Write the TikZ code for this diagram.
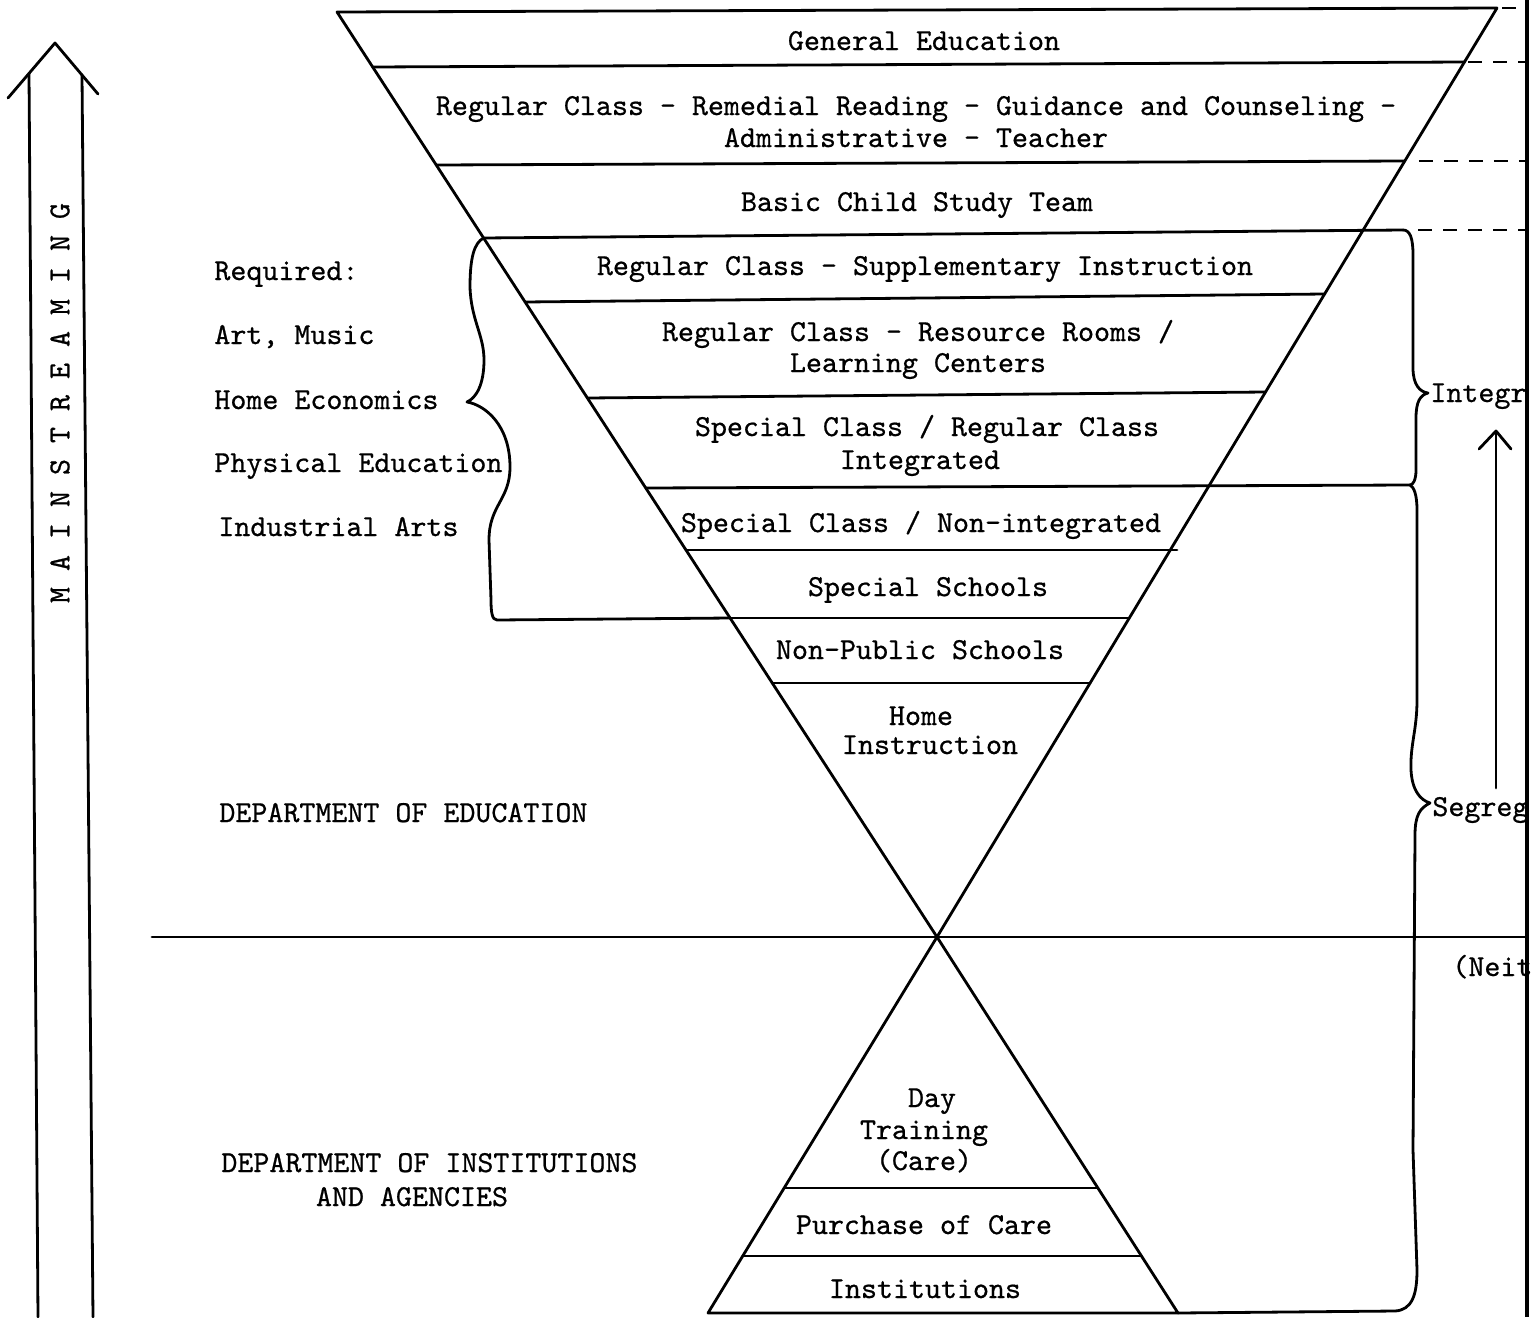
\documentclass[tikz,border=0pt]{standalone}
\usepackage{fontspec}
\newfontfamily\tw[FakeBold=0.7]{lmmono10-regular.otf}
\begin{document}
\begin{tikzpicture}[x=0.5pt,y=-0.5pt]
\tikzset{
  ln/.style={line width=1.4pt, line cap=round, line join=round},
  dsh/.style={line width=1.3pt, dash pattern=on 7pt off 5.5pt},
  lbl/.style={font=\tw\fontsize{15.24}{16}\selectfont, inner sep=0pt, anchor=base},
  lft/.style={lbl, anchor=base west},
  edge/.style={line width=1.6pt}
}
\useasboundingbox (0,0) rectangle (1531,1317);

% coordinates of the inverted triangle
\coordinate (T1L) at (337,12);   \coordinate (T1R) at (1497,8);
\coordinate (V)   at (937,937);
\coordinate (A2L) at (372.7,67); \coordinate (A2R) at (1464.4,62);
\coordinate (A3L) at (436.2,165);\coordinate (A3R) at (1404.8,161);
\coordinate (A4L) at (483.6,238);\coordinate (A4R) at (1363.2,230);
\coordinate (A5L) at (525.1,302);\coordinate (A5R) at (1324.6,294);
\coordinate (A6L) at (587.4,398);\coordinate (A6R) at (1265.5,392);
\coordinate (A7L) at (645.7,488);\coordinate (A7R) at (1210.1,484);
\coordinate (A8L) at (686,550);  \coordinate (A8R) at (1177,550);
\coordinate (A9L) at (730.1,618);\coordinate (A9R) at (1129.3,618);
\coordinate (A10L) at (772.2,683);\coordinate (A10R) at (1090.1,683);
% lower triangle
\coordinate (B1L) at (784.1,1188);\coordinate (B1R) at (1097.9,1188);
\coordinate (B2L) at (742.7,1256);\coordinate (B2R) at (1141.5,1256);
\coordinate (B3L) at (708,1313); \coordinate (B3R) at (1178,1313);
% other points
\coordinate (E4) at (1403,230);
\coordinate (E7) at (1410,485);
\coordinate (HL) at (152,937);
\coordinate (HR) at (1527,937);
\coordinate (RT) at (1527,0);
\coordinate (RB) at (1527,1317);

% triangles
\draw[ln] (T1L) -- (V) -- (T1R) -- cycle;
\draw[ln] (V) -- (B3L) -- (B3R) -- cycle;
\draw[ln] (A2L) -- (A2R);
\draw[ln] (A3L) -- (A3R);
\draw[ln] (A4L) -- (E4);
\draw[ln] (A5L) -- (A5R);
\draw[ln] (A6L) -- (A6R);
\draw[ln] (A7L) -- (E7);
\draw[ln] (A8L) -- (A8R);
\draw[ln] (A9L) -- (A9R);
\draw[ln] (A10L) -- (A10R);
\draw[ln] (B1L) -- (B1R);
\draw[ln] (B2L) -- (B2R);
\draw[ln] (HL) -- (HR);

% dashed extensions
\draw[dsh] (1502,8) -- (1516,8);
\draw[dsh] (A2R) ++(4,0) -- (1527,62);
\draw[dsh] (A3R) ++(14,0) -- (1527,161);
\draw[dsh] (1418,230) -- (1527,230);

% page edge
\draw[edge] (RT) -- (RB);

% right braces
\draw[ln] (E4) .. controls (1410,230) and (1413,238) .. (1413,255) -- (1413,368)
  .. controls (1413,385) and (1420,392) .. (1428,393)
  .. controls (1420,395) and (1416,402) .. (1416,418) -- (1416,470)
  .. controls (1416,480) and (1413,485) .. (E7);
\draw[ln] (E7) .. controls (1414,487) and (1417,495) .. (1417,510) -- (1417,700)
  .. controls (1417,730) and (1410,745) .. (1411,770)
  .. controls (1412,790) and (1420,800) .. (1430,803)
  .. controls (1420,808) and (1415,815) .. (1415,835) -- (1413,1150) -- (1417,1270)
  .. controls (1417,1295) and (1412,1310) .. (1395,1311) -- (B3R);

% left brace
\draw[ln] (A4L) .. controls (474,243) and (470,258) .. (470,287)
  .. controls (471,320) and (484,335) .. (484,360)
  .. controls (484,385) and (476,398) .. (467,402)
  .. controls (485,405) and (510,425) .. (510,467)
  .. controls (510,500) and (489,505) .. (489,540) -- (491,600)
  .. controls (491,612) and (492,620) .. (497,620) -- (A9L);

% arrows
\draw[ln] (1496,788) -- (1496,432);
\draw[ln] (1479,449) -- (1496,431) -- (1511,449);
\draw[ln] (29,73.4) -- (38,1317);
\draw[ln] (82,75) -- (93,1317);
\draw[ln] (8,98) -- (55,43) -- (98,94);

% labels in bands
\node[lbl] (ge) at (924,50) {General Education};
\node[lbl] (rc1) at (916,115) {Regular Class - Remedial Reading - Guidance and Counseling -};
\node[lbl] (rc2) at (916,147) {Administrative - Teacher};
\node[lbl] (bc) at (917,211) {Basic Child Study Team};
\node[lbl] (si) at (925,275) {Regular Class - Supplementary Instruction};
\node[lbl] (rr1) at (918,341) {Regular Class - Resource Rooms /};
\node[lbl] (rr2) at (918,372) {Learning Centers};
\node[lbl] (sc1) at (927,436) {Special Class / Regular Class};
\node[lbl] (sc2) at (920,469) {Integrated};
\node[lbl] (ni) at (921,532) {Special Class / Non-integrated};
\node[lbl] (ss) at (928,596) {Special Schools};
\node[lbl] (np) at (920,659) {Non-Public Schools};
\node[lbl] (hi1) at (921,725) {Home};
\node[lbl] (hi2) at (930,754) {Instruction};
\node[lbl] (dt1) at (932,1107) {Day};
\node[lbl] (dt2) at (924,1139) {Training};
\node[lbl] (dt3) at (924,1170) {(Care)};
\node[lbl] (pc) at (924,1234) {Purchase of Care};
\node[lbl] (in) at (925,1298) {Institutions};

% left labels
\node[lft] (rq) at (214,280) {Required:};
\node[lft] (am) at (214,344) {Art, Music};
\node[lft] (he) at (214,409) {Home Economics};
\node[lft] (pe) at (214,472) {Physical Education};
\node[lft] (ia) at (218,536) {Industrial Arts};
\node[lft] (de) at (219,822) {DEPARTMENT OF EDUCATION};
\node[lft] (di1) at (221,1172) {DEPARTMENT OF INSTITUTIONS};
\node[lbl] (di2) at (412,1206) {AND AGENCIES};

% right labels
\node[lft] (ig) at (1430,402) {Integr};
\node[lft] (sg) at (1432,816) {Segreg};
\node[lft] (nt) at (1452,976) {(Neit};

% mainstreaming
\node[font=\tw\fontsize{15.24}{16}\selectfont, inner sep=0pt, rotate=90] (ms) at (60,403) {M A I N S T R E A M I N G};
\end{tikzpicture}
\end{document}
